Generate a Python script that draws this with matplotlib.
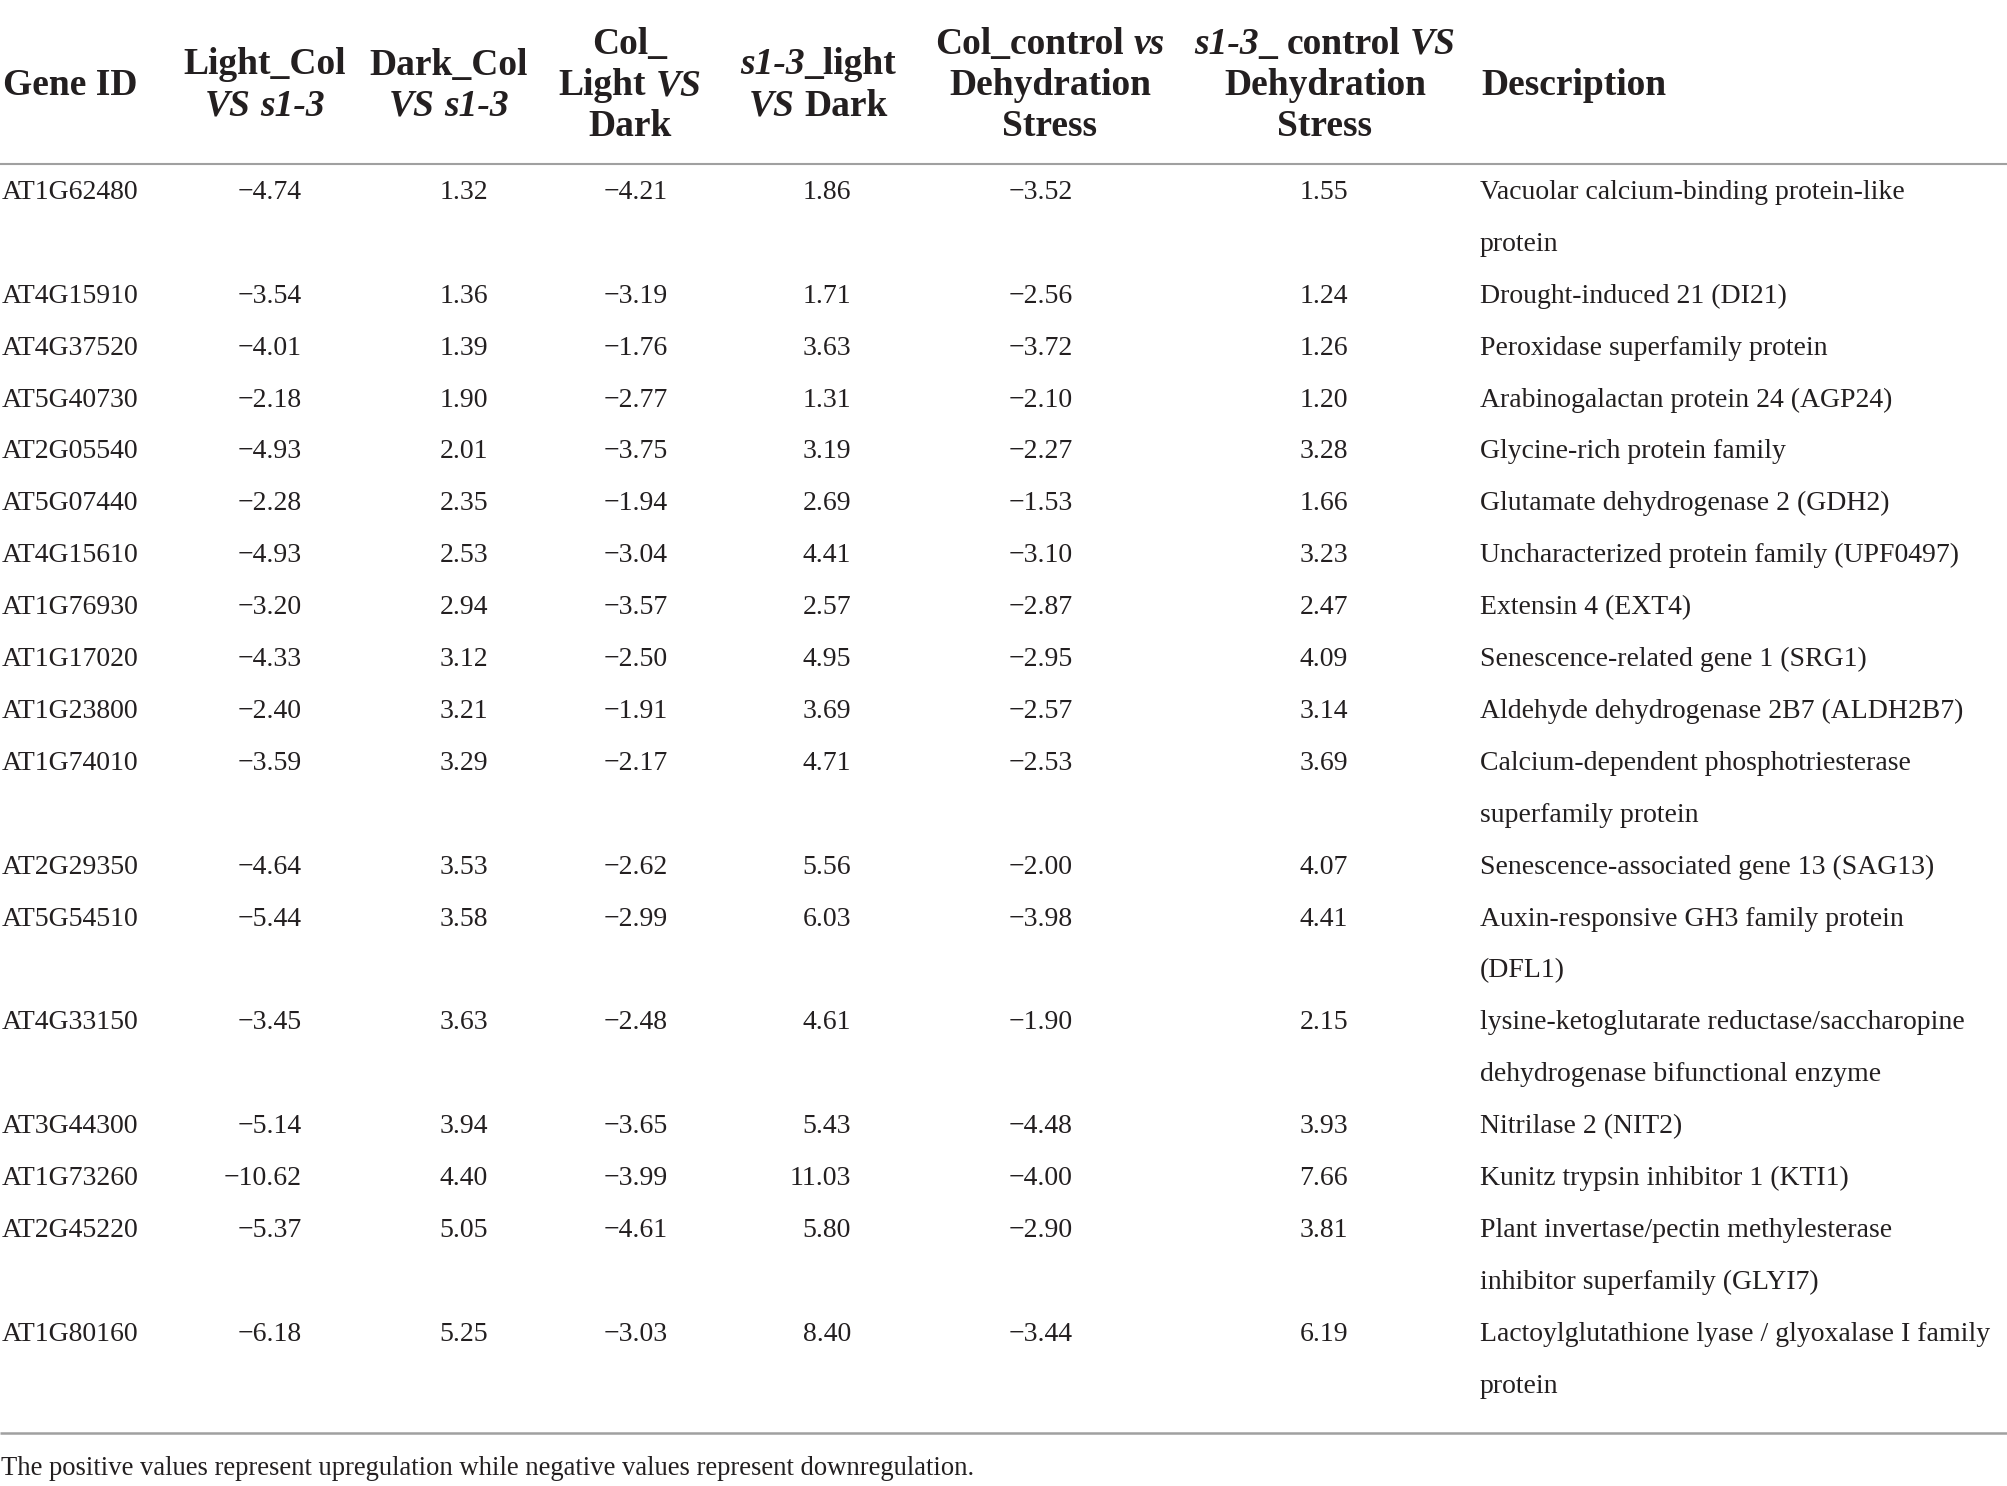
import matplotlib
matplotlib.use("Agg")
import matplotlib.pyplot as plt

# table data
gene_ids = ["AT1G62480", "AT4G15910", "AT4G37520", "AT5G40730", "AT2G05540",
            "AT5G07440", "AT4G15610", "AT1G76930", "AT1G17020", "AT1G23800",
            "AT1G74010", "AT2G29350", "AT5G54510", "AT4G33150", "AT3G44300",
            "AT1G73260", "AT2G45220", "AT1G80160"]
light_col_vs_s13 = [-4.74, -3.54, -4.01, -2.18, -4.93, -2.28, -4.93, -3.20, -4.33,
                    -2.40, -3.59, -4.64, -5.44, -3.45, -5.14, -10.62, -5.37, -6.18]
dark_col_vs_s13 = [1.32, 1.36, 1.39, 1.90, 2.01, 2.35, 2.53, 2.94, 3.12,
                   3.21, 3.29, 3.53, 3.58, 3.63, 3.94, 4.40, 5.05, 5.25]
col_light_vs_dark = [-4.21, -3.19, -1.76, -2.77, -3.75, -1.94, -3.04, -3.57, -2.50,
                     -1.91, -2.17, -2.62, -2.99, -2.48, -3.65, -3.99, -4.61, -3.03]
s13_light_vs_dark = [1.86, 1.71, 3.63, 1.31, 3.19, 2.69, 4.41, 2.57, 4.95,
                     3.69, 4.71, 5.56, 6.03, 4.61, 5.43, 11.03, 5.80, 8.40]
col_ctrl_vs_dehyd = [-3.52, -2.56, -3.72, -2.10, -2.27, -1.53, -3.10, -2.87, -2.95,
                     -2.57, -2.53, -2.00, -3.98, -1.90, -4.48, -4.00, -2.90, -3.44]
s13_ctrl_vs_dehyd = [1.55, 1.24, 1.26, 1.20, 3.28, 1.66, 3.23, 2.47, 4.09,
                     3.14, 3.69, 4.07, 4.41, 2.15, 3.93, 7.66, 3.81, 6.19]
descriptions = [
    "Vacuolar calcium-binding protein-like\nprotein",
    "Drought-induced 21 (DI21)",
    "Peroxidase superfamily protein",
    "Arabinogalactan protein 24 (AGP24)",
    "Glycine-rich protein family",
    "Glutamate dehydrogenase 2 (GDH2)",
    "Uncharacterized protein family (UPF0497)",
    "Extensin 4 (EXT4)",
    "Senescence-related gene 1 (SRG1)",
    "Aldehyde dehydrogenase 2B7 (ALDH2B7)",
    "Calcium-dependent phosphotriesterase\nsuperfamily protein",
    "Senescence-associated gene 13 (SAG13)",
    "Auxin-responsive GH3 family protein\n(DFL1)",
    "lysine-ketoglutarate reductase/saccharopine\ndehydrogenase bifunctional enzyme",
    "Nitrilase 2 (NIT2)",
    "Kunitz trypsin inhibitor 1 (KTI1)",
    "Plant invertase/pectin methylesterase\ninhibitor superfamily (GLYI7)",
    "Lactoylglutathione lyase / glyoxalase I family\nprotein",
]
# header lines: each line is a list of (text, italic); " " = a space
headers = [
    [[("Gene ID", False)]],
    [[("Light_Col", False)], [("VS", True), (" ", False), ("s1-3", True)]],
    [[("Dark_Col", False)], [("VS", True), (" ", False), ("s1-3", True)]],
    [[("Col_", False)], [("Light", False), (" ", False), ("VS", True)], [("Dark", False)]],
    [[("s1-3", True), ("_light", False)], [("VS", True), (" ", False), ("Dark", False)]],
    [[("Col_control", False), (" ", False), ("vs", True)], [("Dehydration", False)], [("Stress", False)]],
    [[("s1-3", True), ("_", False), (" ", False), ("control", False), (" ", False), ("VS", True)],
     [("Dehydration", False)], [("Stress", False)]],
    [[("Description", False)]],
]
footnote = "The positive values represent upregulation while negative values represent downregulation."

W, H = 2008, 1486
FONT = "Liberation Serif"
INK = "#231f20"
plt.rcParams["font.family"] = FONT

fig = plt.figure(figsize=(W / 100, H / 100), dpi=100)
ax = fig.add_axes([0, 0, 1, 1])
ax.set_xlim(0, W)
ax.set_ylim(H, 0)
ax.axis("off")
renderer = fig.canvas.get_renderer()

HEAD_SIZE = 27
BODY_SIZE = 20

# header column anchors (x, align)
head_x = [3, 265, 449, 630, 818, 1050, 1325, 1481]
head_align = ["left", "center", "center", "center", "center", "center", "center", "left"]
line_gap = 41
head_mid = 83


def text_width(s, italic):
    t = ax.text(0, 0, s, fontsize=HEAD_SIZE, fontweight="bold",
                style="italic" if italic else "normal")
    w = t.get_window_extent(renderer).width
    t.remove()
    return w


space_w = text_width("a a", False) - text_width("aa", False)

for col, lines in enumerate(headers):
    n = len(lines)
    for i, segs in enumerate(lines):
        yc = head_mid + (i - (n - 1) / 2) * line_gap
        widths = [space_w if s == " " else text_width(s, it) for s, it in segs]
        total = sum(widths)
        x = head_x[col] - total / 2 if head_align[col] == "center" else head_x[col]
        for (s, it), w in zip(segs, widths):
            if s != " ":
                ax.text(x, yc + 12, s, fontsize=HEAD_SIZE, fontweight="bold",
                        style="italic" if it else "normal", color=INK,
                        ha="left", va="baseline")
            x += w

# rules
ax.plot([0, W], [164, 164], color="#a0a0a0", lw=1.5, solid_capstyle="butt")
ax.plot([0, W], [1433, 1433], color="#a0a0a0", lw=1.8, solid_capstyle="butt")

# body
num_cols = [light_col_vs_s13, dark_col_vs_s13, col_light_vs_dark,
            s13_light_vs_dark, col_ctrl_vs_dehyd, s13_ctrl_vs_dehyd]
num_right = [302, 488, 668, 851, 1073, 1348]
row_start, row_pitch = 190, 51.9


def fmt(v):
    return f"{v:.2f}".replace("-", "\u2212")


line_idx = 0
for r, gid in enumerate(gene_ids):
    yc = row_start + line_idx * row_pitch
    ax.text(2, yc + 9, gid, fontsize=BODY_SIZE, color=INK, ha="left", va="baseline")
    for vals, xr in zip(num_cols, num_right):
        ax.text(xr, yc + 9, fmt(vals[r]), fontsize=BODY_SIZE, color=INK,
                ha="right", va="baseline")
    desc_lines = descriptions[r].split("\n")
    for k, dl in enumerate(desc_lines):
        ax.text(1480, yc + 9 + k * row_pitch, dl, fontsize=BODY_SIZE, color=INK,
                ha="left", va="baseline")
    line_idx += len(desc_lines)

ax.text(1, 1466 + 9, footnote, fontsize=19.2, color=INK, ha="left", va="baseline")

fig.savefig("out.png", dpi=100, facecolor="white")
